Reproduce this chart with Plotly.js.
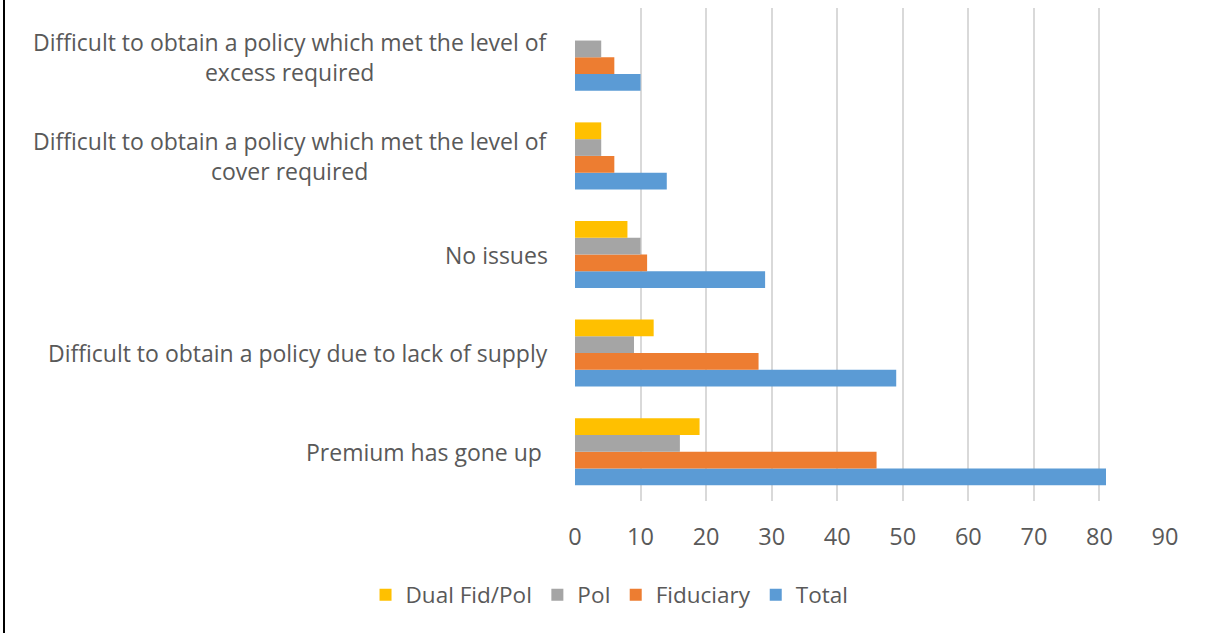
<!DOCTYPE html>
<html>
<head>
<meta charset="utf-8">
<script src="https://cdn.plot.ly/plotly-3.0.1.min.js"></script>
<style>
  html, body { margin: 0; padding: 0; background: #fff; }
  #chart { width: 1207px; height: 633px; }
  #frame { position: absolute; left: 3px; top: 0; width: 2px; height: 633px; background: #000; }
</style>
</head>
<body>
<div id="chart"></div>
<div id="frame"></div>
<script>
// Categories, bottom to top
const categories = [
  "Premium has gone up",
  "Difficult to obtain a policy due to lack of supply",
  "No issues",
  "Difficult to obtain a policy which met the level of cover required",
  "Difficult to obtain a policy which met the level of excess required"
];
// Label text as drawn (line breaks as in the reference)
const labelTexts = [
  "Premium has gone up\u00a0",
  "Difficult to obtain a policy due to lack of supply",
  "No issues",
  "Difficult to obtain a policy which met the level of<br>cover required",
  "Difficult to obtain a policy which met the level of<br>excess required"
];

const total      = [81, 49, 29, 14, 10];
const fiduciary  = [46, 28, 11, 6, 6];
const poi        = [16, 9, 10, 4, 4];
const dualFidPoi = [19, 12, 8, 4, 0];

const xTicks = [0, 10, 20, 30, 40, 50, 60, 70, 80, 90];

const colors = {
  total: "#5B9BD5",
  fiduciary: "#ED7D31",
  poi: "#A5A5A5",
  dual: "#FFC000"
};

function barTrace(name, values, color) {
  return {
    type: "bar",
    orientation: "h",
    name: name,
    x: values,
    y: categories,
    marker: { color: color, line: { width: 0 } },
    hoverinfo: "x+name"
  };
}

const data = [
  barTrace("Total", total, colors.total),
  barTrace("Fiduciary", fiduciary, colors.fiduciary),
  barTrace("PoI", poi, colors.poi),
  barTrace("Dual Fid/PoI", dualFidPoi, colors.dual)
];

const labelFont = { family: "Open Sans, sans-serif", size: 23, color: "#595959" };
const annotations = labelTexts.map((t, i) => ({
  text: t,
  x: 0, xref: "paper", xanchor: "right", xshift: -25,
  y: categories[i], yref: "y", yanchor: "middle",
  showarrow: false,
  align: "center",
  font: labelFont
}));

const layout = {
  width: 1207,
  height: 633,
  margin: { l: 575, r: 42, t: 8, b: 132 },
  paper_bgcolor: "#ffffff",
  plot_bgcolor: "#ffffff",
  barmode: "group",
  bargap: 0.32,
  bargroupgap: 0,
  showlegend: true,
  legend: {
    orientation: "h",
    traceorder: "reversed",
    xref: "container", yref: "container",
    x: 0.505, xanchor: "center",
    y: 0.06, yanchor: "middle",
    font: { family: "Open Sans, sans-serif", size: 22.5, color: "#595959" },
    itemclick: false
  },
  xaxis: {
    range: [0, 90],
    tickvals: xTicks,
    ticktext: xTicks.map(String),
    showgrid: true,
    gridcolor: "#D9D9D9",
    gridwidth: 2,
    zeroline: false,
    showline: false,
    ticks: "",
    ticklabelstandoff: 19,
    tickfont: { family: "Open Sans, sans-serif", size: 23.5, color: "#595959" },
    fixedrange: true
  },
  yaxis: {
    type: "category",
    categoryorder: "array",
    categoryarray: categories,
    showticklabels: false,
    showgrid: false,
    zeroline: false,
    showline: false,
    ticks: "",
    fixedrange: true
  },
  annotations: annotations
};

Plotly.newPlot("chart", data, layout, { displayModeBar: false, staticPlot: true });
</script>
</body>
</html>
